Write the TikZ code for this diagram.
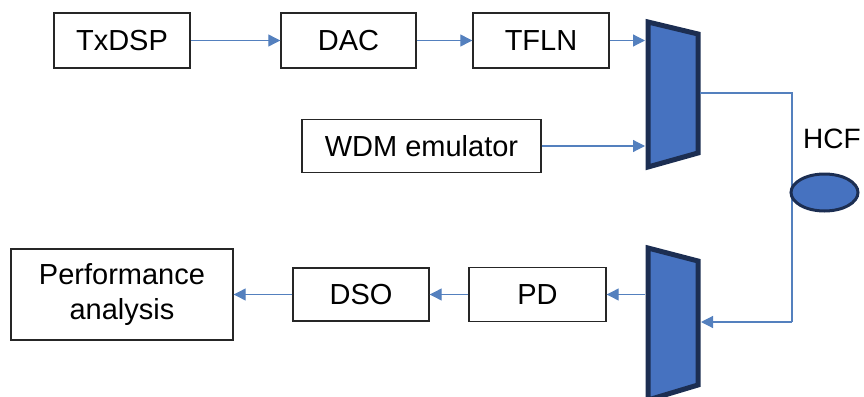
\documentclass[tikz,border=0pt]{standalone}
\usepackage{fontspec}
\setmainfont{Liberation Sans}
\usetikzlibrary{arrows.meta}
\usetikzlibrary{shapes.geometric}
\definecolor{linkblue}{RGB}{84,128,190}
\definecolor{muxfill}{RGB}{70,114,192}
\definecolor{muxedge}{RGB}{28,46,82}

\begin{document}
\begin{tikzpicture}[x=1pt,y=-1pt,
    block/.style={draw=black!85,line width=1.4pt,inner sep=0pt,align=center,
      font=\fontsize{29}{35}\selectfont},
    link/.style={draw=linkblue,line width=1.2pt,-{Triangle[length=12pt,width=12pt]}},
    fibre/.style={draw=linkblue,line width=1.2pt},
    muxbody/.style={fill=muxfill,draw=muxedge,line width=5pt,line join=miter}]
    \useasboundingbox (0,0) rectangle (864,396);
    % transmitter chain
    \node[block,minimum width=136pt,minimum height=55pt] (txdsp) at (122,40.5) {TxDSP};
    \node[block,minimum width=135pt,minimum height=55pt] (dac) at (348.5,40.5) {DAC};
    \node[block,minimum width=136pt,minimum height=55pt] (tfln) at (541,40.5) {TFLN};
    \node[block,minimum width=239pt,minimum height=53pt] (wdm) at (421.5,146) {WDM emulator};
    % multiplexer
    \coordinate (MuxA) at (648,22);
    \coordinate (MuxB) at (698,34);
    \coordinate (MuxC) at (698,153);
    \coordinate (MuxD) at (648,167);
    \draw[muxbody] (MuxA)--(MuxB)--(MuxC)--(MuxD)--cycle;
    \coordinate (MuxIn) at (645,0);
    \coordinate (MuxOut) at (700,93);
    % receiver chain
    \node[block,minimum width=137pt,minimum height=54pt] (pd) at (537.5,294.5) {PD};
    \node[block,minimum width=136pt,minimum height=53pt] (dso) at (361,294.5) {DSO};
    \node[block,minimum width=222pt,minimum height=91pt] (perf) at (122,294.5) {Performance\\analysis};
    % demultiplexer
    \coordinate (DemuxA) at (648,248);
    \coordinate (DemuxB) at (698,261);
    \coordinate (DemuxC) at (698,385);
    \coordinate (DemuxD) at (648,400);
    \draw[muxbody] (DemuxA)--(DemuxB)--(DemuxC)--(DemuxD)--cycle;
    \coordinate (DemuxIn) at (701,322);
    \coordinate (DemuxOut) at (645,0);
    % fibre
    \coordinate (FibreTop) at (792,93);
    \coordinate (FibreBot) at (792,322);
    \draw[fibre] (MuxOut)--(FibreTop)--(FibreBot);
    \draw[link] (FibreBot)--(DemuxIn);
    \node[ellipse,fill=muxfill,draw=muxedge,line width=3pt,minimum width=67pt,minimum height=37pt,inner sep=0pt] (hcf) at (824.5,192.5) {};
    \node[font=\fontsize{28}{35}\selectfont] (hcflabel) at (832,139) {HCF};
    % links
    \draw[link] (txdsp.east)--(dac.west);
    \draw[link] (dac.east)--(tfln.west);
    \draw[link] (tfln.east)--(tfln.east -| MuxIn);
    \draw[link] (wdm.east)--(wdm.east -| MuxIn);
    \draw[link] (pd.east -| DemuxOut)--(pd.east);
    \draw[link] (pd.west)--(dso.east);
    \draw[link] (dso.west)--(perf.east);
\end{tikzpicture}
\end{document}
